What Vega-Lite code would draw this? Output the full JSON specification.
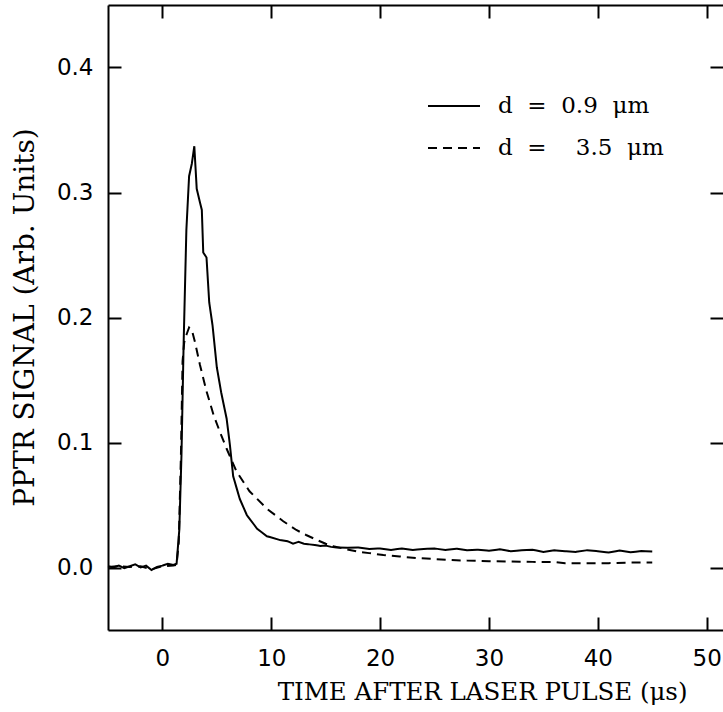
{
  "$schema": "https://vega.github.io/schema/vega-lite/v6.json",
  "width": 615,
  "height": 625,
  "autosize": {"type": "none"},
  "padding": {"left": 108, "top": 5, "right": 0, "bottom": 82},
  "background": "white",
  "config": {
    "view": {"stroke": null},
    "axis": {
      "grid": false,
      "tickWidth": 2,
      "tickColor": "#000000",
      "domainColor": "#000000",
      "domainWidth": 2,
      "labelFont": "DejaVu Sans",
      "labelFontSize": 23,
      "labelColor": "black",
      "titleFont": "DejaVu Serif",
      "titleFontWeight": "normal",
      "titleColor": "black"
    }
  },
  "datasets": {
    "curves": [
      {"time": -5, "signal": 0.001, "series": "d = 0.9 μm"},
      {"time": -4.5, "signal": 0.0, "series": "d = 0.9 μm"},
      {"time": -4, "signal": 0.0015, "series": "d = 0.9 μm"},
      {"time": -3.5, "signal": -0.0005, "series": "d = 0.9 μm"},
      {"time": -3, "signal": 0.001, "series": "d = 0.9 μm"},
      {"time": -2.5, "signal": 0.0025, "series": "d = 0.9 μm"},
      {"time": -2, "signal": 0.0, "series": "d = 0.9 μm"},
      {"time": -1.5, "signal": 0.0015, "series": "d = 0.9 μm"},
      {"time": -1, "signal": -0.002, "series": "d = 0.9 μm"},
      {"time": -0.5, "signal": 0.0005, "series": "d = 0.9 μm"},
      {"time": 0, "signal": 0.0015, "series": "d = 0.9 μm"},
      {"time": 0.5, "signal": 0.003, "series": "d = 0.9 μm"},
      {"time": 1.0, "signal": 0.002, "series": "d = 0.9 μm"},
      {"time": 1.3, "signal": 0.003, "series": "d = 0.9 μm"},
      {"time": 1.55, "signal": 0.03, "series": "d = 0.9 μm"},
      {"time": 1.75, "signal": 0.09, "series": "d = 0.9 μm"},
      {"time": 1.95, "signal": 0.18, "series": "d = 0.9 μm"},
      {"time": 2.2, "signal": 0.27, "series": "d = 0.9 μm"},
      {"time": 2.45, "signal": 0.313, "series": "d = 0.9 μm"},
      {"time": 2.7, "signal": 0.323, "series": "d = 0.9 μm"},
      {"time": 2.93, "signal": 0.337, "series": "d = 0.9 μm"},
      {"time": 3.15, "signal": 0.303, "series": "d = 0.9 μm"},
      {"time": 3.45, "signal": 0.292, "series": "d = 0.9 μm"},
      {"time": 3.62, "signal": 0.286, "series": "d = 0.9 μm"},
      {"time": 3.75, "signal": 0.252, "series": "d = 0.9 μm"},
      {"time": 4.05, "signal": 0.248, "series": "d = 0.9 μm"},
      {"time": 4.3, "signal": 0.212, "series": "d = 0.9 μm"},
      {"time": 4.6, "signal": 0.194, "series": "d = 0.9 μm"},
      {"time": 5.0, "signal": 0.16, "series": "d = 0.9 μm"},
      {"time": 5.4, "signal": 0.14, "series": "d = 0.9 μm"},
      {"time": 5.9, "signal": 0.119, "series": "d = 0.9 μm"},
      {"time": 6.2, "signal": 0.098, "series": "d = 0.9 μm"},
      {"time": 6.5, "signal": 0.073, "series": "d = 0.9 μm"},
      {"time": 7.1, "signal": 0.055, "series": "d = 0.9 μm"},
      {"time": 7.75, "signal": 0.042, "series": "d = 0.9 μm"},
      {"time": 8.7, "signal": 0.031, "series": "d = 0.9 μm"},
      {"time": 9.6, "signal": 0.025, "series": "d = 0.9 μm"},
      {"time": 10.8, "signal": 0.022, "series": "d = 0.9 μm"},
      {"time": 11.5, "signal": 0.021, "series": "d = 0.9 μm"},
      {"time": 12, "signal": 0.019, "series": "d = 0.9 μm"},
      {"time": 12.5, "signal": 0.0205, "series": "d = 0.9 μm"},
      {"time": 13, "signal": 0.019, "series": "d = 0.9 μm"},
      {"time": 13.5, "signal": 0.0185, "series": "d = 0.9 μm"},
      {"time": 14, "signal": 0.018, "series": "d = 0.9 μm"},
      {"time": 14.5, "signal": 0.0172, "series": "d = 0.9 μm"},
      {"time": 15, "signal": 0.0175, "series": "d = 0.9 μm"},
      {"time": 15.5, "signal": 0.0165, "series": "d = 0.9 μm"},
      {"time": 16, "signal": 0.016, "series": "d = 0.9 μm"},
      {"time": 17, "signal": 0.0158, "series": "d = 0.9 μm"},
      {"time": 18, "signal": 0.016, "series": "d = 0.9 μm"},
      {"time": 19, "signal": 0.0148, "series": "d = 0.9 μm"},
      {"time": 20, "signal": 0.0152, "series": "d = 0.9 μm"},
      {"time": 21, "signal": 0.014, "series": "d = 0.9 μm"},
      {"time": 22, "signal": 0.0152, "series": "d = 0.9 μm"},
      {"time": 23, "signal": 0.014, "series": "d = 0.9 μm"},
      {"time": 24, "signal": 0.0148, "series": "d = 0.9 μm"},
      {"time": 25, "signal": 0.0152, "series": "d = 0.9 μm"},
      {"time": 26, "signal": 0.014, "series": "d = 0.9 μm"},
      {"time": 27, "signal": 0.015, "series": "d = 0.9 μm"},
      {"time": 28, "signal": 0.0138, "series": "d = 0.9 μm"},
      {"time": 29, "signal": 0.0142, "series": "d = 0.9 μm"},
      {"time": 30, "signal": 0.0135, "series": "d = 0.9 μm"},
      {"time": 31, "signal": 0.0145, "series": "d = 0.9 μm"},
      {"time": 32, "signal": 0.013, "series": "d = 0.9 μm"},
      {"time": 33, "signal": 0.0138, "series": "d = 0.9 μm"},
      {"time": 34, "signal": 0.0142, "series": "d = 0.9 μm"},
      {"time": 35, "signal": 0.0125, "series": "d = 0.9 μm"},
      {"time": 36, "signal": 0.0138, "series": "d = 0.9 μm"},
      {"time": 37, "signal": 0.013, "series": "d = 0.9 μm"},
      {"time": 38, "signal": 0.0125, "series": "d = 0.9 μm"},
      {"time": 39, "signal": 0.0138, "series": "d = 0.9 μm"},
      {"time": 40, "signal": 0.013, "series": "d = 0.9 μm"},
      {"time": 41, "signal": 0.012, "series": "d = 0.9 μm"},
      {"time": 42, "signal": 0.0135, "series": "d = 0.9 μm"},
      {"time": 43, "signal": 0.0122, "series": "d = 0.9 μm"},
      {"time": 44, "signal": 0.0132, "series": "d = 0.9 μm"},
      {"time": 45, "signal": 0.0128, "series": "d = 0.9 μm"},
      {"time": -5, "signal": 0.0005, "series": "d =  3.5 μm"},
      {"time": -4, "signal": 0.001, "series": "d =  3.5 μm"},
      {"time": -3, "signal": 0.0005, "series": "d =  3.5 μm"},
      {"time": -2, "signal": 0.001, "series": "d =  3.5 μm"},
      {"time": -1, "signal": -0.0015, "series": "d =  3.5 μm"},
      {"time": 0, "signal": 0.001, "series": "d =  3.5 μm"},
      {"time": 1.0, "signal": 0.0015, "series": "d =  3.5 μm"},
      {"time": 1.3, "signal": 0.002, "series": "d =  3.5 μm"},
      {"time": 1.5, "signal": 0.02, "series": "d =  3.5 μm"},
      {"time": 1.7, "signal": 0.09, "series": "d =  3.5 μm"},
      {"time": 1.85, "signal": 0.165, "series": "d =  3.5 μm"},
      {"time": 2.0, "signal": 0.18, "series": "d =  3.5 μm"},
      {"time": 2.2, "signal": 0.186, "series": "d =  3.5 μm"},
      {"time": 2.45, "signal": 0.192, "series": "d =  3.5 μm"},
      {"time": 2.7, "signal": 0.19, "series": "d =  3.5 μm"},
      {"time": 3.0, "signal": 0.18, "series": "d =  3.5 μm"},
      {"time": 3.45, "signal": 0.162, "series": "d =  3.5 μm"},
      {"time": 4.05, "signal": 0.141, "series": "d =  3.5 μm"},
      {"time": 4.7, "signal": 0.122, "series": "d =  3.5 μm"},
      {"time": 5.3, "signal": 0.108, "series": "d =  3.5 μm"},
      {"time": 5.9, "signal": 0.095, "series": "d =  3.5 μm"},
      {"time": 6.8, "signal": 0.077, "series": "d =  3.5 μm"},
      {"time": 8.0, "signal": 0.061, "series": "d =  3.5 μm"},
      {"time": 9.6, "signal": 0.047, "series": "d =  3.5 μm"},
      {"time": 11.1, "signal": 0.037, "series": "d =  3.5 μm"},
      {"time": 12.3, "signal": 0.03, "series": "d =  3.5 μm"},
      {"time": 13.2, "signal": 0.026, "series": "d =  3.5 μm"},
      {"time": 14.2, "signal": 0.022, "series": "d =  3.5 μm"},
      {"time": 15, "signal": 0.019, "series": "d =  3.5 μm"},
      {"time": 15.7, "signal": 0.017, "series": "d =  3.5 μm"},
      {"time": 16.8, "signal": 0.0148, "series": "d =  3.5 μm"},
      {"time": 17.9, "signal": 0.0128, "series": "d =  3.5 μm"},
      {"time": 19, "signal": 0.0115, "series": "d =  3.5 μm"},
      {"time": 20.3, "signal": 0.01, "series": "d =  3.5 μm"},
      {"time": 21.8, "signal": 0.0088, "series": "d =  3.5 μm"},
      {"time": 23.4, "signal": 0.0075, "series": "d =  3.5 μm"},
      {"time": 25, "signal": 0.0068, "series": "d =  3.5 μm"},
      {"time": 26.4, "signal": 0.006, "series": "d =  3.5 μm"},
      {"time": 28, "signal": 0.0055, "series": "d =  3.5 μm"},
      {"time": 30, "signal": 0.005, "series": "d =  3.5 μm"},
      {"time": 32, "signal": 0.0048, "series": "d =  3.5 μm"},
      {"time": 34, "signal": 0.0045, "series": "d =  3.5 μm"},
      {"time": 36, "signal": 0.0045, "series": "d =  3.5 μm"},
      {"time": 37, "signal": 0.0035, "series": "d =  3.5 μm"},
      {"time": 39, "signal": 0.0035, "series": "d =  3.5 μm"},
      {"time": 41, "signal": 0.0035, "series": "d =  3.5 μm"},
      {"time": 43, "signal": 0.004, "series": "d =  3.5 μm"},
      {"time": 45, "signal": 0.004, "series": "d =  3.5 μm"}
    ]
  },
  "data": {"name": "curves"},
  "layer": [
    {
      "mark": {"type": "line", "strokeWidth": 2, "color": "black"},
      "encoding": {
        "x": {
          "field": "time", "type": "quantitative",
          "scale": {"domain": [-5, 51.5], "nice": false, "zero": false},
          "axis": {
            "orient": "top",
            "offset": -625,
            "values": [0, 10, 20, 30, 40, 50],
            "tickSize": 13,
            "labelPadding": -30,
            "labelBaseline": "top",
            "title": "TIME AFTER LASER PULSE (μs)",
            "titleFontSize": 24.5,
            "titleX": 579, "titleY": 69,
            "titleAngle": 0,
            "titleAlign": "right", "titleBaseline": "alphabetic"
          }
        },
        "y": {
          "field": "signal", "type": "quantitative",
          "scale": {"domain": [-0.05, 0.45], "nice": false, "zero": false},
          "axis": {
            "orient": "right",
            "offset": -615,
            "values": [0, 0.1, 0.2, 0.3, 0.4],
            "format": ".1f",
            "tickSize": 13,
            "labelPadding": -28,
            "labelAlign": "right",
            "labelBaseline": "middle",
            "title": "PPTR SIGNAL (Arb. Units)",
            "titleFontSize": 28,
            "titleX": -75, "titleY": 312,
            "titleAngle": 270,
            "titleAlign": "center", "titleBaseline": "alphabetic"
          }
        },
        "strokeDash": {
          "field": "series", "type": "nominal",
          "scale": {"domain": ["d = 0.9 μm", "d =  3.5 μm"], "range": [[10, 0], [9, 6]]},
          "legend": {
            "title": null,
            "orient": "none",
            "legendX": 319,
            "legendY": 74,
            "padding": 0,
            "symbolType": "stroke",
            "symbolSize": 2704,
            "symbolStrokeWidth": 2,
            "symbolStrokeColor": "black",
            "labelFont": "DejaVu Serif",
            "labelFontSize": 23,
            "labelColor": "black",
            "labelOffset": 17,
            "labelLimit": 300,
            "rowPadding": 3,
            "labelExpr": "datum.label == 'd = 0.9 μm' ? 'd\u00a0\u00a0=\u00a0\u00a00.9\u00a0\u00a0μm' : 'd\u00a0\u00a0=\u00a0\u00a0\u00a0\u00a03.5\u00a0\u00a0μm'"
          }
        }
      }
    },
    {
      "mark": {"type": "point", "opacity": 0},
      "encoding": {
        "x": {
          "field": "time", "type": "quantitative",
          "axis": {"orient": "bottom", "offset": -625, "values": [0, 10, 20, 30, 40, 50], "tickSize": 13, "labels": false, "title": null}
        },
        "y": {
          "field": "signal", "type": "quantitative",
          "axis": {"orient": "left", "offset": -615, "values": [0, 0.1, 0.2, 0.3, 0.4], "tickSize": 13, "labels": false, "domain": false, "title": null}
        }
      }
    }
  ],
  "resolve": {"axis": {"x": "independent", "y": "independent"}}
}
